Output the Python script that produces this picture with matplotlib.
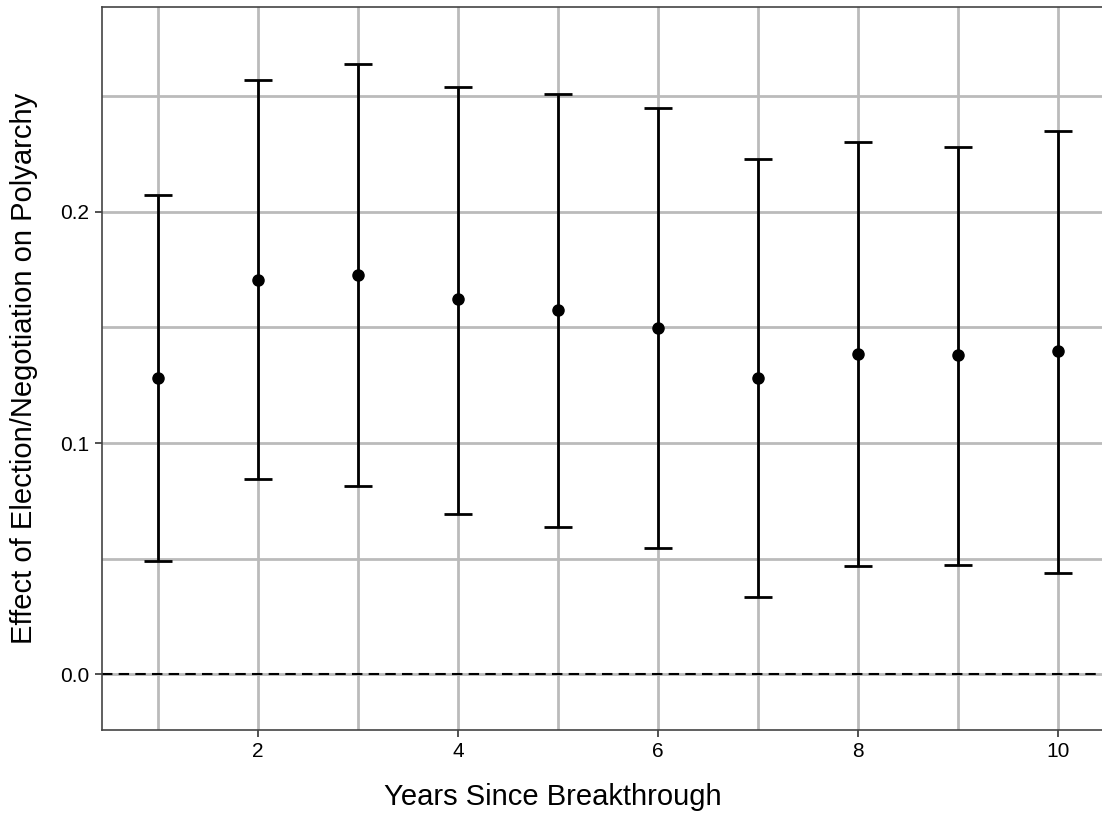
import numpy as np
import matplotlib.pyplot as plt

plt.rcParams['font.family'] = ['Liberation Sans', 'DejaVu Sans']

# Estimates
years = [1, 2, 3, 4, 5, 6, 7, 8, 9, 10]
effect = [0.128, 0.1706, 0.1727, 0.1623, 0.1576, 0.1498, 0.1281, 0.1385, 0.1381, 0.1398]
upper = [0.2074, 0.2571, 0.2641, 0.2541, 0.2511, 0.2450, 0.2229, 0.2303, 0.2281, 0.2351]
lower = [0.0489, 0.0844, 0.0814, 0.0693, 0.0636, 0.0545, 0.0333, 0.0468, 0.0472, 0.0437]

x = np.array(years)
y = np.array(effect)
yerr = np.vstack([y - np.array(lower), np.array(upper) - y])

fig = plt.figure(figsize=(11.02, 8.36), dpi=100)
ax = fig.add_axes([0.0926, 0.1268, 0.9074, 0.8648])

# grid
grid_col = '#bbbbbb'
for v in np.arange(1, 11):
    ax.axvline(v, color=grid_col, lw=2.0, zorder=0)
for v in [0.0, 0.05, 0.1, 0.15, 0.2, 0.25]:
    ax.axhline(v, color=grid_col, lw=2.0, zorder=0)

ax.axhline(0, color='black', lw=1.5, ls=(0, (5, 3)), zorder=1)

ax.errorbar(x, y, yerr=yerr, fmt='o', color='black', ms=8, elinewidth=2,
            capsize=10, capthick=2, zorder=3)

ax.set_xlim(0.44, 10.44)
ax.set_ylim(-0.0242, 0.2887)
ax.set_xticks([2, 4, 6, 8, 10])
ax.set_yticks([0.0, 0.1, 0.2])
ax.set_yticklabels(['0.0', '0.1', '0.2'])
ax.tick_params(axis='both', labelsize=15, length=5, width=1.2, color='#333333',
               labelcolor='black', pad=4)

for s in ['left', 'bottom', 'top']:
    ax.spines[s].set_color('#444444')
    ax.spines[s].set_linewidth(1.2)
ax.spines['right'].set_visible(False)

ax.set_xlabel('Years Since Breakthrough', fontsize=21)
ax.xaxis.set_label_coords(0.451, -0.074)
ax.set_ylabel('Effect of Election/Negotiation on Polyarchy', fontsize=21, labelpad=16)

fig.savefig('out.png', dpi=100)
